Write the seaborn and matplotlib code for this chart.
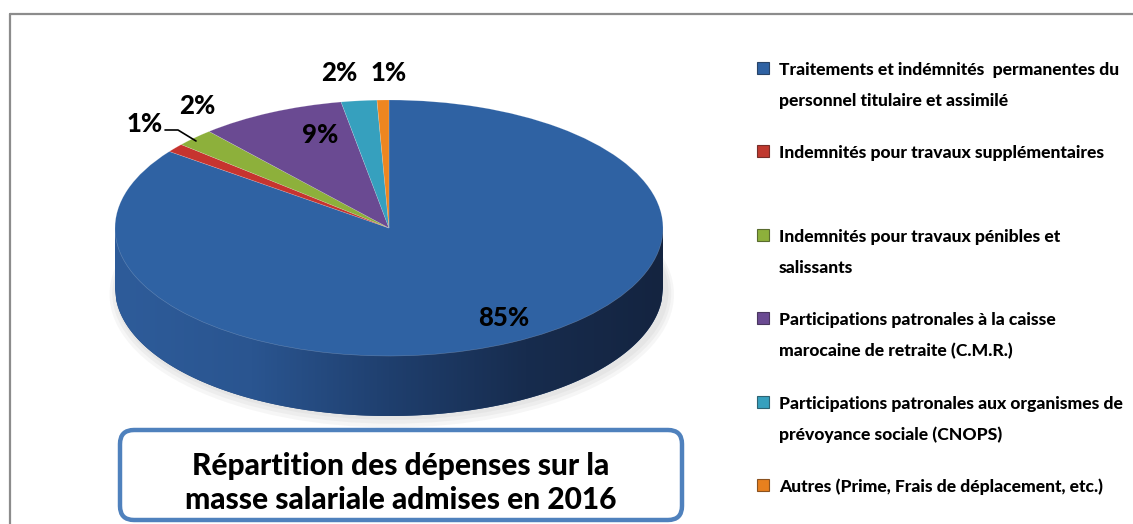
import numpy as np
import matplotlib
matplotlib.use("Agg")
import matplotlib.pyplot as plt
import seaborn as sns
from matplotlib.colors import LinearSegmentedColormap
from matplotlib.patches import Polygon, FancyBboxPatch, Rectangle, Ellipse
from matplotlib.lines import Line2D

# ---------------- data ----------------
categories = [
    "Traitements et indémnités  permanentes du\npersonnel titulaire et assimilé",
    "Indemnités pour travaux supplémentaires",
    "Indemnités pour travaux pénibles et\nsalissants",
    "Participations patronales à la caisse\nmarocaine de retraite (C.M.R.)",
    "Participations patronales aux organismes de\nprévoyance sociale (CNOPS)",
    "Autres (Prime, Frais de déplacement, etc.)",
]
shares = [85.2, 1.1, 2.3, 8.6, 2.1, 0.7]
title_lines = ["Répartition des dépenses sur la", "masse salariale admises en 2016"]

# ---------------- style ----------------
sns.set_theme(style="white")
plt.rcParams["font.family"] = ["Lato", "DejaVu Sans"]
WEIGHT = "black"

colors = sns.color_palette(["#2F62A3", "#C6342F", "#8DB03B", "#6A4A92", "#36A0BE", "#EE8620"])
marker_cols = ["#2F62A3", "#C0392F", "#8DB03B", "#6A4A92", "#36A0BE", "#E8801E"]

W, H = 1133, 524
fig = plt.figure(figsize=(W / 100, H / 100), dpi=100)
fig.patch.set_facecolor("white")

# pie axes in units where ellipse semi-axes are 1
cx, cy, a_px, b_px = 389, 228, 274, 128
ax = fig.add_axes([0, 0, 1, 1])
depth = 60 / b_px

# shadow
for k, al in enumerate([0.05, 0.05, 0.05]):
    ax.add_patch(Ellipse((0.01, -depth - 0.03 - 0.01 * k), 2.02 + 0.02 * k, 2.0 + 0.04 * k,
                         color="#555555", alpha=al, lw=0, zorder=0))

# side of the cylinder (front part, blue slice)
xs = np.linspace(-1, 1, 400)
lower = -np.sqrt(np.clip(1 - xs ** 2, 0, None)) - depth
verts = np.vstack([np.column_stack([xs, lower]), [[1, 0], [-1, 0]]])
side = Polygon(verts, closed=True, facecolor="#23467A", edgecolor="none", zorder=1)
ax.add_patch(side)
side_cmap = LinearSegmentedColormap.from_list(
    "side", ["#2E5C9A", "#2A5590", "#1F3F6E", "#172C4E", "#142440"])
grad = np.linspace(0, 1, 256)[None, :]
im = ax.imshow(grad, extent=[-1, 1, -1 - depth, 0], cmap=side_cmap, aspect="auto",
               zorder=1.5, interpolation="bicubic")
im.set_clip_path(side)

# top face
wedges, _ = ax.pie(shares, colors=colors, startangle=90, counterclock=False,
                   radius=1, center=(0, 0),
                   wedgeprops=dict(linewidth=0.4, edgecolor=(1, 1, 1, 0.25)))
for w in wedges:
    w.set_zorder(3)

ax.set_aspect("auto")
ax.set_xlim(-cx / a_px, (W - cx) / a_px)
ax.set_ylim(-(H - cy) / b_px, cy / b_px)
ax.axis("off")

# percentage labels
pct_text = [f"{round(v):.0f}%" for v in shares]
label_pos = [(0.42, -0.70), (-0.89, 0.81), (-0.70, 0.95), (-0.25, 0.73), (-0.18, 1.21), (0.0, 1.21)]
for t, (lx, ly) in zip(pct_text, label_pos):
    ax.text(lx, ly, t, ha="center", va="center", fontsize=18.5, fontweight=WEIGHT,
            color="black", zorder=5)
# leader line for the red slice
ax.plot([(165 - cx) / a_px, (178 - cx) / a_px, (196 - cx) / a_px],
        [(cy - 130) / b_px, (cy - 130) / b_px, (cy - 141) / b_px],
        color="black", lw=1.2, zorder=5)

# overlay axes in pixel coordinates
ov = fig.add_axes([0, 0, 1, 1], facecolor="none")
ov.set_xlim(0, W)
ov.set_ylim(H, 0)
ov.axis("off")

# outer border (gray)
ov.add_line(Line2D([9.5, 9.5], [H, 13.5], color="#8C8C8C", lw=1.6))
ov.add_line(Line2D([9.5, W], [13.5, 13.5], color="#8C8C8C", lw=1.6))

# legend
y0, pitch, line_gap = 70, 83.4, 31
for i, (lab, col) in enumerate(zip(categories, marker_cols)):
    y = y0 + i * pitch
    ov.add_patch(Rectangle((757, y - 8), 12, 12, facecolor=col,
                           edgecolor=sns.dark_palette(col, n_colors=3)[1], lw=0.8))
    for j, line in enumerate(lab.split("\n")):
        ov.text(779, y + j * line_gap, line, ha="left", va="center",
                fontsize=12.6, fontweight=WEIGHT, color="black")

# title box
ov.add_patch(FancyBboxPatch((120, 430), 562, 90, boxstyle="round,pad=0,rounding_size=14",
                            facecolor="white", edgecolor="#4F81BD", lw=3.2, zorder=4))
for j, line in enumerate(title_lines):
    ov.text(401, 466 + j * 34, line, ha="center", va="center", fontsize=21.5,
            fontweight=WEIGHT, color="black", zorder=5)

fig.savefig("out.png", dpi=100, facecolor="white")
